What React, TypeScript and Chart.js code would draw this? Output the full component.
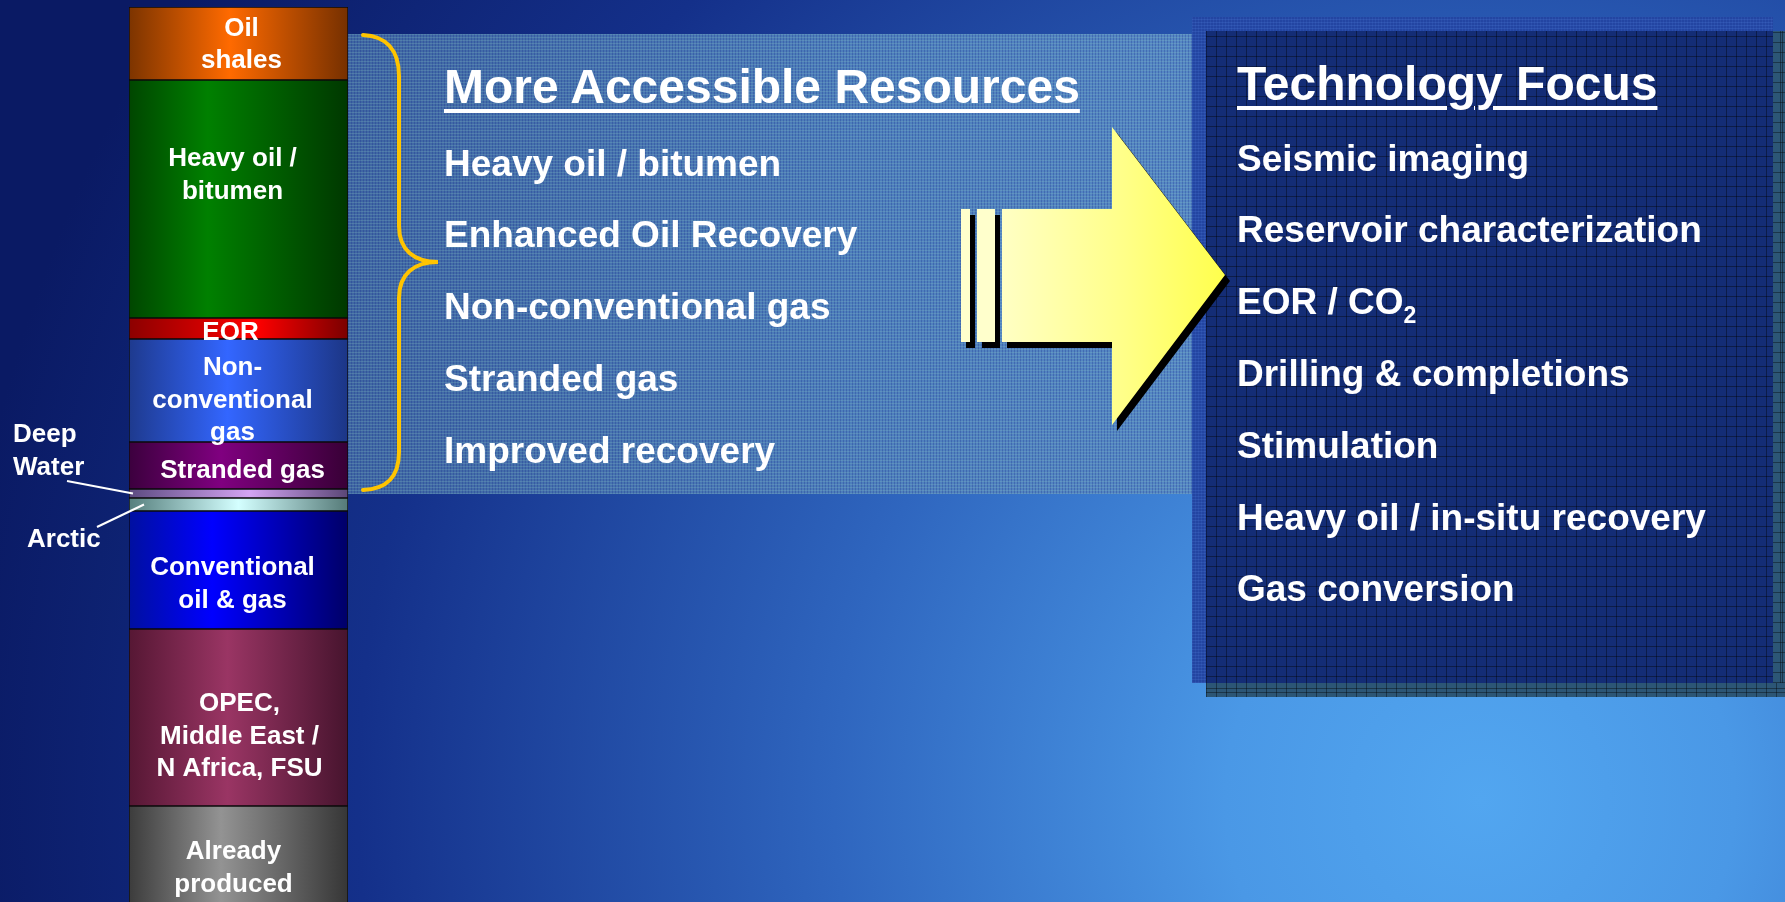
import React, { useEffect, useRef } from 'react';
import { Chart, registerables } from 'chart.js';

Chart.register(...registerables);

const W = 1785;
const H = 902;

// ---- Data (stack order: bottom to top) ----
const segmentNames = [
  'Already produced',
  'OPEC, Middle East / N Africa, FSU',
  'Conventional oil & gas',
  'Arctic',
  'Deep Water',
  'Stranded gas',
  'Non-conventional gas',
  'EOR',
  'Heavy oil / bitumen',
  'Oil shales',
];
const segmentValues = [118, 177, 118, 13, 9, 47, 103, 21, 238, 73];
const segmentLabelLines: string[][] = [
  ['Already', 'produced'],
  ['OPEC,', 'Middle East /', 'N Africa, FSU'],
  ['Conventional', 'oil & gas'],
  [],
  [],
  ['Stranded gas'],
  ['Non-', 'conventional', 'gas'],
  ['EOR'],
  ['Heavy oil /', 'bitumen'],
  ['Oil', 'shales'],
];
const outsideLabelLines: string[][] = [['Deep', 'Water'], ['Arctic']];
const outsideLabelSegments = [4, 3];
const axisMin = 22;
const axisMax = 917;

const accessibleTitle = 'More Accessible Resources';
const accessibleItems = [
  'Heavy oil / bitumen',
  'Enhanced Oil Recovery',
  'Non-conventional gas',
  'Stranded gas',
  'Improved recovery',
];
const technologyTitle = 'Technology Focus';
const technologyItems = [
  'Seismic imaging',
  'Reservoir characterization',
  'EOR / CO2',
  'Drilling & completions',
  'Stimulation',
  'Heavy oil / in-situ recovery',
  'Gas conversion',
];

// ---- Styles ----
const FONT = '"Liberation Sans", Arial, Helvetica, sans-serif';
const segmentGradients: [number, string][][] = [
  [[0, '#3c3c3c'], [0.42, '#939393'], [1, '#363636']],
  [[0, '#561734'], [0.45, '#9a3564'], [1, '#47142e']],
  [[0, '#0010a0'], [0.38, '#0000ff'], [1, '#000068']],
  [[0, '#567f7d'], [0.5, '#d4ffff'], [1, '#557a78']],
  [[0, '#5c4a80'], [0.55, '#d4a4f4'], [1, '#5a4676']],
  [[0, '#3c003e'], [0.42, '#800080'], [1, '#380036']],
  [[0, '#1e3a8e'], [0.45, '#3366ff'], [1, '#1c3686']],
  [[0, '#8c0000'], [0.58, '#ff0000'], [1, '#7a0000']],
  [[0, '#004600'], [0.36, '#008000'], [1, '#003800']],
  [[0, '#7c3400'], [0.46, '#ff6a00'], [1, '#763000']],
];
const labelDx = [-5, 1, -6, 0, 0, 4, -6, -8, -6, 3];
const labelDy = [1, 17, 12, 0, 0, 3, 8, 2, -26, -1];
const LABEL_SIZE = 26;
const LABEL_LINE = 32.5;
const outsideLabelX = [13, 27];
const outsideLabelDy = [-44.5, 33.5];
const leaderStart: [number, number][] = [[67, -12.5], [97, 22.5]];
const leaderEndDx = [4, 15];

const overlayPlugin = {
  id: 'overlay',
  afterDatasetsDraw(chart: any) {
    const ctx: CanvasRenderingContext2D = chart.ctx;
    ctx.save();
    ctx.fillStyle = '#ffffff';
    ctx.font = `bold ${LABEL_SIZE}px ${FONT}`;
    ctx.textBaseline = 'alphabetic';
    ctx.textAlign = 'center';
    const cap = 0.36 * LABEL_SIZE;

    segmentLabelLines.forEach((lines, i) => {
      if (!lines.length) return;
      const el = chart.getDatasetMeta(i).data[0];
      if (!el) return;
      const { x, y, base } = el.getProps(['x', 'y', 'base'], true);
      const cy = (y + base) / 2 + labelDy[i];
      const n = lines.length;
      lines.forEach((t, k) => {
        const ly = cy + (k - (n - 1) / 2) * LABEL_LINE;
        ctx.fillText(t, x + labelDx[i], ly + cap);
      });
    });

    // outside labels with leader lines
    ctx.textAlign = 'left';
    ctx.strokeStyle = '#ffffff';
    ctx.lineWidth = 2;
    outsideLabelLines.forEach((lines, j) => {
      const idx = outsideLabelSegments[j];
      const el = chart.getDatasetMeta(idx).data[0];
      if (!el) return;
      const { x, y, base, width } = el.getProps(['x', 'y', 'base', 'width'], true);
      const cy = (y + base) / 2;
      const left = x - width / 2;
      const tc = cy + outsideLabelDy[j];
      const n = lines.length;
      lines.forEach((t, k) => {
        const ly = tc + (k - (n - 1) / 2) * LABEL_LINE;
        ctx.fillText(t, outsideLabelX[j], ly + cap);
      });
      ctx.beginPath();
      ctx.moveTo(leaderStart[j][0], cy + leaderStart[j][1]);
      ctx.lineTo(left + leaderEndDx[j], cy);
      ctx.stroke();
    });

    // brace
    ctx.strokeStyle = '#ffc400';
    ctx.lineWidth = 4;
    ctx.lineCap = 'round';
    ctx.beginPath();
    ctx.moveTo(363, 35);
    ctx.bezierCurveTo(386, 36, 399, 50, 399, 76);
    ctx.lineTo(399, 226);
    ctx.bezierCurveTo(399, 250, 414, 262, 438, 262);
    ctx.bezierCurveTo(414, 262, 399, 274, 399, 298);
    ctx.lineTo(399, 452);
    ctx.bezierCurveTo(399, 478, 386, 489, 363, 490);
    ctx.stroke();

    // arrow
    const arrow = (dx: number, dy: number) => {
      ctx.beginPath();
      ctx.moveTo(1002 + dx, 209 + dy);
      ctx.lineTo(1112 + dx, 209 + dy);
      ctx.lineTo(1112 + dx, 127 + dy);
      ctx.lineTo(1225 + dx, 275 + dy);
      ctx.lineTo(1112 + dx, 425 + dy);
      ctx.lineTo(1112 + dx, 342 + dy);
      ctx.lineTo(1002 + dx, 342 + dy);
      ctx.closePath();
    };
    ctx.fillStyle = '#000000';
    arrow(5, 6);
    ctx.fill();
    ctx.fillRect(966, 215, 9, 133);
    ctx.fillRect(982, 215, 18, 133);
    const g = ctx.createLinearGradient(1002, 0, 1225, 0);
    g.addColorStop(0, '#ffffc4');
    g.addColorStop(0.55, '#ffff88');
    g.addColorStop(1, '#ffff4c');
    ctx.fillStyle = g;
    arrow(0, 0);
    ctx.fill();
    ctx.fillStyle = '#ffffcc';
    ctx.fillRect(961, 209, 9, 133);
    ctx.fillRect(977, 209, 18, 133);
    ctx.restore();
  },
};

function TextLine(props: { x: number; baseline: number; size: number; text: string; underline?: boolean }) {
  const { x, baseline, size, text, underline } = props;
  const m = text.match(/^(.*CO)2$/);
  return (
    <div
      style={{
        position: 'absolute',
        left: x,
        top: baseline - 0.8465 * size,
        fontSize: size,
        lineHeight: `${size}px`,
        fontWeight: 'bold',
        color: '#ffffff',
        whiteSpace: 'nowrap',
        fontFamily: FONT,
        textDecoration: underline ? 'underline' : 'none',
        textDecorationThickness: underline ? '4px' : undefined,
        textUnderlineOffset: underline ? '6px' : undefined,
      }}
    >
      {m ? (
        <>
          {m[1]}
          <span style={{ fontSize: Math.round(size * 0.62), position: 'relative', top: 9 }}>2</span>
        </>
      ) : (
        text
      )}
    </div>
  );
}

export default function App() {
  const canvasRef = useRef<HTMLCanvasElement>(null);

  useEffect(() => {
    const canvas = canvasRef.current;
    if (!canvas) return;
    const chart = new Chart(canvas, {
      type: 'bar',
      data: {
        labels: ['Resources'],
        datasets: segmentNames.map((name, i) => ({
          label: name,
          data: [segmentValues[i]],
          stack: 'all',
          backgroundColor: (c: any) => {
            const area = c.chart.chartArea;
            const stops = segmentGradients[i];
            if (!area) return stops[1][1];
            const gr = c.chart.ctx.createLinearGradient(area.left, 0, area.right, 0);
            stops.forEach(([p, col]) => gr.addColorStop(p, col));
            return gr;
          },
          borderColor: '#0a0a0a',
          borderWidth: 1,
          borderSkipped: false,
          barPercentage: 1,
          categoryPercentage: 1,
        })),
      },
      options: {
        responsive: false,
        maintainAspectRatio: false,
        devicePixelRatio: 1,
        animation: false,
        events: [],
        layout: { padding: { left: 129, right: W - 348, top: 7, bottom: 0 } },
        plugins: { legend: { display: false }, tooltip: { enabled: false } },
        scales: {
          x: { stacked: true, display: false },
          y: { stacked: true, display: false, min: axisMin, max: axisMax },
        },
      },
      plugins: [overlayPlugin],
    } as any);
    return () => chart.destroy();
  }, []);

  const gridDark =
    'repeating-linear-gradient(0deg, rgba(0,0,0,0.38) 0 1px, transparent 1px 10px), repeating-linear-gradient(90deg, rgba(0,0,0,0.38) 0 1px, transparent 1px 10px)';
  const fineLight =
    'repeating-linear-gradient(0deg, rgba(90,140,230,0.18) 0 1px, transparent 1px 3px), repeating-linear-gradient(90deg, rgba(90,140,230,0.12) 0 1px, transparent 1px 3px)';

  return (
    <div
      style={{
        position: 'fixed',
        left: 0,
        top: 0,
        width: W,
        height: H,
        overflow: 'hidden',
        fontFamily: FONT,
        background:
          'radial-gradient(circle 1700px at 1480px 800px, #52a6f0 0%, #4a98e6 15%, #2f66bf 38%, #14308a 66%, #0a1a64 90%, #0a1a64 100%)',
      }}
    >
      {/* left panel */}
      <div
        style={{
          position: 'absolute',
          left: 348,
          top: 34,
          width: 845,
          height: 460,
          background:
            'repeating-linear-gradient(0deg, rgba(150,215,200,0.2) 0 1px, transparent 1px 3px), repeating-linear-gradient(90deg, rgba(20,40,140,0.28) 0 1px, transparent 1px 3px), linear-gradient(90deg, #3f66a2 0%, #4e7fbc 60%, #5688c4 100%)',
        }}
      />
      {/* right panel frame */}
      <div
        style={{
          position: 'absolute',
          left: 1192,
          top: 17,
          width: 581,
          height: 666,
          background: `${fineLight}, #2345a2`,
        }}
      />
      {/* right dark panel */}
      <div
        style={{
          position: 'absolute',
          left: 1206,
          top: 31,
          width: 579,
          height: 666,
          background: `${gridDark}, #142d76`,
        }}
      />
      <div
        style={{
          position: 'absolute',
          left: 1206,
          top: 683,
          width: 579,
          height: 14,
          background: `${gridDark}, #2c5676`,
          backgroundPosition: '0 -652px',
        }}
      />
      <div
        style={{
          position: 'absolute',
          left: 1773,
          top: 31,
          width: 12,
          height: 652,
          background: `${gridDark}, #2c5676`,
          backgroundPosition: '-567px 0',
        }}
      />
      <canvas
        ref={canvasRef}
        width={W}
        height={H}
        style={{ position: 'absolute', left: 0, top: 0, width: W, height: H }}
      />
      <TextLine x={444} baseline={104} size={48} text={accessibleTitle} underline />
      {accessibleItems.map((t, i) => (
        <TextLine key={t} x={444} baseline={176 + i * 71.8} size={37} text={t} />
      ))}
      <TextLine x={1237} baseline={101} size={48} text={technologyTitle} underline />
      {technologyItems.map((t, i) => (
        <TextLine key={t} x={1237} baseline={171 + i * 71.8} size={37} text={t} />
      ))}
    </div>
  );
}
